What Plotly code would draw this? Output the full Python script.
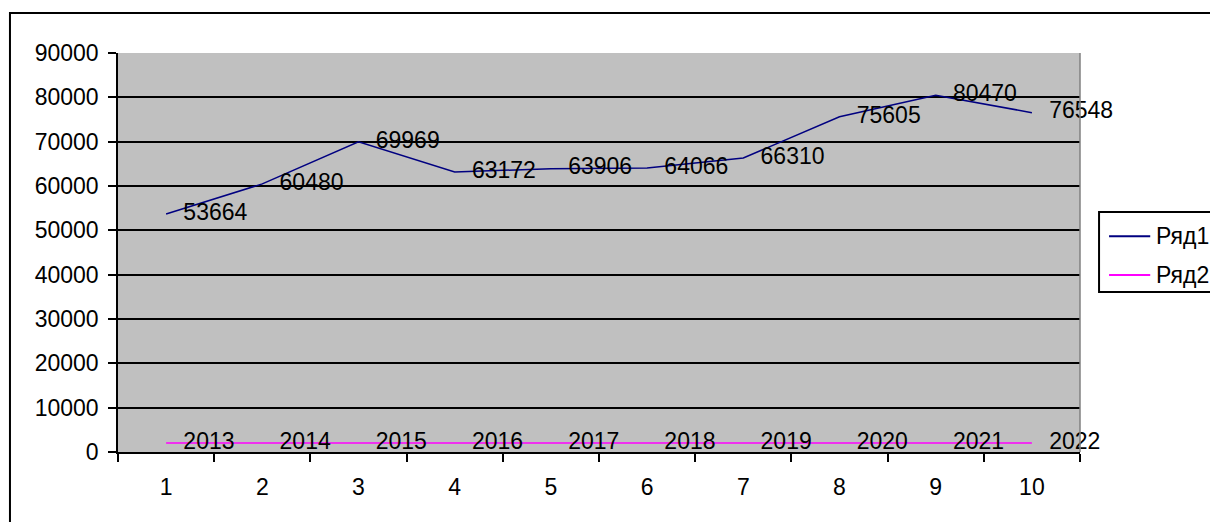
import plotly.graph_objects as go

# categories on the x axis
categories = ["1", "2", "3", "4", "5", "6", "7", "8", "9", "10"]
# Ряд1 values
row1 = [53664, 60480, 69969, 63172, 63906, 64066, 66310, 75605, 80470, 76548]
# Ряд2 values (years)
row2 = [2013, 2014, 2015, 2016, 2017, 2018, 2019, 2020, 2021, 2022]
series_names = ["Ряд1", "Ряд2"]

FONT = "Liberation Sans, Arial, sans-serif"
COLORS = {"Ряд1": "#000080", "Ряд2": "#FF00FF"}

fig = go.Figure()
for name, vals in zip(series_names, [row1, row2]):
    fig.add_trace(go.Scatter(
        x=categories, y=vals, name=name,
        mode="lines+markers+text",
        line=dict(color=COLORS[name], width=1.5),
        marker=dict(size=26, opacity=0),  # invisible, only pushes labels off the points
        text=[str(v) for v in vals], textposition="middle right",
        textfont=dict(size=23, color="black"),
        cliponaxis=False,
    ))

# outer chart frame (runs past the window on the right and bottom)
fig.add_shape(type="rect", xref="paper", yref="paper",
              x0=-0.1123, x1=1.2, y0=-0.25, y1=1.1003,
              line=dict(color="black", width=2), layer="below")
# gray border on the right of the plot area
fig.add_shape(type="line", xref="paper", yref="paper",
              x0=1, x1=1, y0=0, y1=1,
              line=dict(color="#808080", width=1.5))

# legend drawn by hand, the box is cut off by the right edge like in the original
fig.add_shape(type="rect", xref="paper", yref="paper",
              x0=1.0198, x1=1.2, y0=0.401, y1=0.6015,
              line=dict(color="black", width=2), fillcolor="white")
for name, ly in zip(series_names, [0.541, 0.4436]):
    fig.add_shape(type="line", xref="paper", yref="paper",
                  x0=1.0302, x1=1.073, y0=ly, y1=ly,
                  line=dict(color=COLORS[name], width=2))
    fig.add_annotation(xref="paper", yref="paper", x=1.077, y=ly,
                       xanchor="left", yanchor="middle", showarrow=False,
                       text=name, font=dict(size=23, color="black"))

fig.update_layout(
    width=1218, height=522,
    margin=dict(l=110, r=146, t=45, b=78),
    paper_bgcolor="white",
    plot_bgcolor="#C0C0C0",
    font=dict(family=FONT, size=23, color="black"),
    showlegend=False,
    hovermode=False,
)
fig.update_xaxes(
    type="category", range=[-0.5, 9.5], tickson="boundaries",
    ticks="outside", ticklen=8, tickwidth=1.5, tickcolor="black",
    showline=True, linecolor="black", linewidth=1.5,
    showgrid=False, ticklabelstandoff=14,
)
fig.update_yaxes(
    range=[0, 90000], dtick=10000, tickformat="d",
    ticks="outside", ticklen=8, tickwidth=1.5, tickcolor="black",
    showline=True, linecolor="black", linewidth=1.5,
    showgrid=True, gridcolor="black", gridwidth=1.5,
    zeroline=False, ticklabelstandoff=5,
)

fig.write_html("out.html")
